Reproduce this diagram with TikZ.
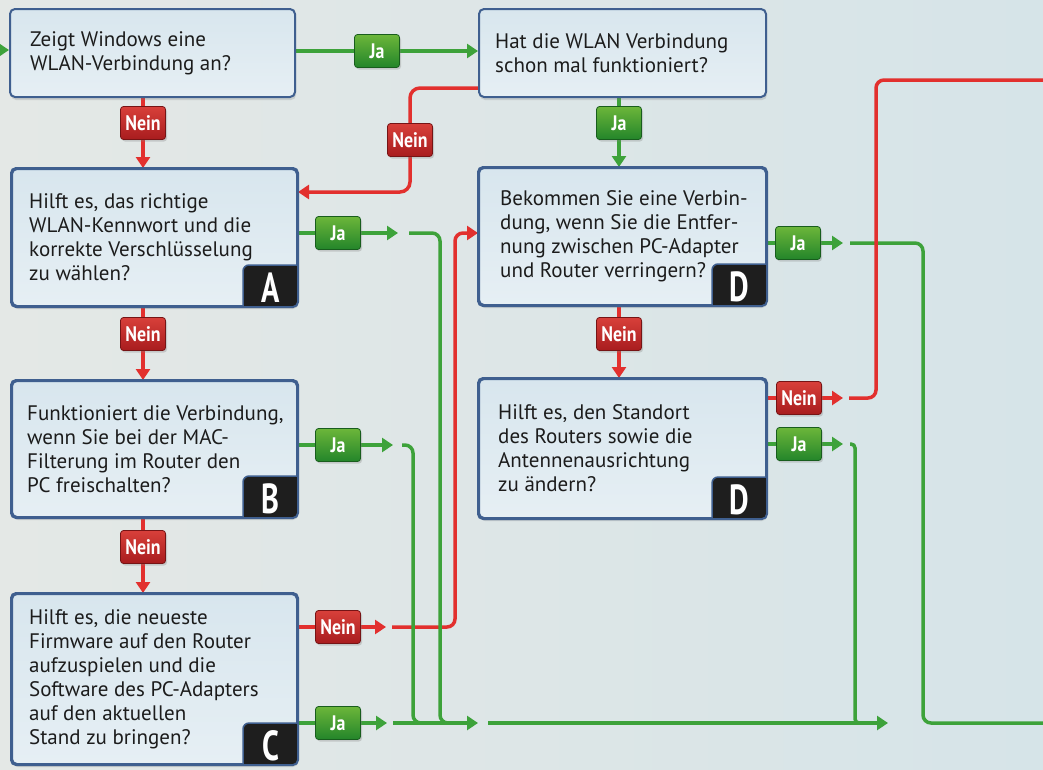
\documentclass[tikz,border=0pt]{standalone}
\usepackage{fontspec}
\setmainfont{PT Sans}
\usepackage{graphicx}
\usetikzlibrary{arrows.meta,shadows,calc}
\definecolor{bgL}{HTML}{E4E8E6}
\definecolor{bgR}{HTML}{D6E4E8}
\definecolor{boxfill}{HTML}{E6EFF4}
\definecolor{boxtop}{HTML}{D8E6EE}
\definecolor{boxblue}{HTML}{3F5F8F}
\definecolor{tabblack}{HTML}{1E1E1E}
\definecolor{lgreen}{HTML}{3DA23A}
\definecolor{lred}{HTML}{E2302E}
\definecolor{ggtop}{HTML}{6CB63A}
\definecolor{ggbot}{HTML}{23852A}
\definecolor{rrtop}{HTML}{D8403A}
\definecolor{rrbot}{HTML}{A81C1E}
\definecolor{txt}{HTML}{1C1C1C}
\pgfdeclarelayer{bgl}
\pgfdeclarelayer{lines}
\pgfsetlayers{bgl,lines,main}
\newcommand\condtxt[2]{\scalebox{#1}[1]{#2}}
\tikzset{
 qbox/.style={draw=boxblue, line width=2pt, rounded corners=5pt, top color=boxtop, bottom color=boxfill, anchor=north west, inner sep=0pt, drop shadow={shadow xshift=1pt, shadow yshift=-3pt, opacity=.25}},
 qtext/.style={anchor=west, align=left, inner sep=0pt, text=txt, font=\fontsize{21}{24}\selectfont},
 lettr/.style={anchor=base, text=white, inner sep=0pt, font=\bfseries\fontsize{42}{42}\selectfont},
 badge/.style={minimum width=45pt, minimum height=33pt, rounded corners=3pt, inner sep=0pt, text=white, font=\bfseries\fontsize{21}{21}\selectfont, line width=.8pt, drop shadow={shadow xshift=1.5pt, shadow yshift=-2pt, opacity=.3}},
 jab/.style={badge, draw=ggbot!70!black, top color=ggtop, bottom color=ggbot},
 neinb/.style={badge, draw=rrbot!70!black, top color=rrtop, bottom color=rrbot},
 gline/.style={draw=lgreen, line width=3.5pt},
 rline/.style={draw=lred, line width=3.5pt},
 arr/.style={-{Triangle[length=11pt,width=14pt]}},
}
% name x y w h inset text
\newcommand\qplain[7]{%
  \node[qbox, minimum width=#4pt, minimum height=#5pt] (#1) at (#2,#3) {};
  \node[qtext] at ([xshift=#6pt]#1.west) {#7};
}
% name x y w h inset text letter
\newcommand\qbox[8]{%
  \node[qbox, minimum width=#4pt, minimum height=#5pt] (#1) at (#2,#3) {};
  \begin{scope}
    \clip[rounded corners=5pt] (#1.north west) rectangle (#1.south east);
    \filldraw[fill=tabblack, draw=boxblue, line width=1.5pt, rounded corners=6pt] ([xshift=-55pt,yshift=42pt]#1.south east) rectangle ([xshift=10pt,yshift=-10pt]#1.south east);
  \end{scope}
  \draw[boxblue, line width=2pt, rounded corners=5pt] (#1.north west) rectangle (#1.south east);
  \node[lettr] at ([xshift=-27.5pt,yshift=5pt]#1.south east) {\condtxt{0.72}{#8}};
  \node[qtext] at ([xshift=#6pt]#1.west) {#7};
}
\begin{document}
\begin{tikzpicture}[x=1pt,y=-1pt]
\useasboundingbox (0,0) rectangle (1043,769);
\begin{pgfonlayer}{bgl}
\shade[left color=bgL, right color=bgR] (0,0) rectangle (1043,769);
\end{pgfonlayer}

% question boxes
\qplain{q1}{9}{8}{285}{88}{21}{Zeigt Windows eine\\WLAN-Verbindung an?}
\qplain{q2}{478}{8}{287}{88}{17}{Hat die WLAN Verbindung\\schon mal funktioniert?}
\qbox{qA}{11}{168}{285}{137}{18}{Hilft es, das richtige\\WLAN-Kennwort und die\\korrekte Verschlüsselung\\zu wählen?}{A}
\qbox{qB}{11}{380}{285}{136}{16}{Funktioniert die Verbindung,\\wenn Sie bei der MAC-\\Filterung im Router den\\PC freischalten?}{B}
\qbox{qC}{11}{593}{285}{170}{18}{Hilft es, die neueste\\Firmware auf den Router\\aufzuspielen und die\\Software des PC-Adapters\\auf den aktuellen\\Stand zu bringen?}{C}
\qbox{qD1}{478}{167}{287}{137}{22}{Bekommen Sie eine Verbin-\\dung, wenn Sie die Entfer-\\nung zwischen PC-Adapter\\und Router verringern?}{D}
\qbox{qD2}{478}{378}{287}{139}{20}{Hilft es, den Standort\\des Routers sowie die\\Antennenausrichtung\\zu ändern?}{D}

% badges
\node[jab] (b1) at (377,51) {\condtxt{0.85}{Ja}};
\node[neinb] (n1) at (143,123) {\condtxt{0.85}{Nein}};
\node[neinb] (n2) at (410,140) {\condtxt{0.85}{Nein}};
\node[jab] (jA) at (338,233) {\condtxt{0.85}{Ja}};
\node[neinb] (nA) at (143,334) {\condtxt{0.85}{Nein}};
\node[jab] (jB) at (338,445) {\condtxt{0.85}{Ja}};
\node[neinb] (nB) at (143,547) {\condtxt{0.85}{Nein}};
\node[neinb] (nC) at (338,627) {\condtxt{0.85}{Nein}};
\node[jab] (jC) at (338,723) {\condtxt{0.85}{Ja}};
\node[jab] (j2) at (619,123) {\condtxt{0.85}{Ja}};
\node[neinb] (nD1) at (619,334) {\condtxt{0.85}{Nein}};
\node[jab] (jD1) at (798,243) {\condtxt{0.85}{Ja}};
\node[neinb] (nD2) at (799,398) {\condtxt{0.85}{Nein}};
\node[jab] (jD2) at (799,444) {\condtxt{0.85}{Ja}};

% free ends
\coordinate (in0) at (-15,50);
\coordinate (aT) at (398,233);  \coordinate (aS) at (409,233);
\coordinate (bT) at (393,445);  \coordinate (bS) at (402,445);
\coordinate (cT) at (386,627);  \coordinate (cS) at (392,627);
\coordinate (dT) at (387,723);
\coordinate (busA) at (393,723); \coordinate (busT) at (478,723);
\coordinate (busB) at (488,723); \coordinate (busU) at (888,723);
\coordinate (eT) at (843,243);  \coordinate (eS) at (850,243);
\coordinate (fT) at (843,398);  \coordinate (fS) at (849,398);
\coordinate (gT) at (843,444);  \coordinate (gS) at (850,444);
\coordinate (rEnd1) at (1050,723);
\coordinate (rEnd2) at (1050,80);

\begin{pgfonlayer}{lines}
% red connectors
\draw[rline,arr] (q1.south -| n1) -- (n1.center) -- (qA.north -| n1);
\draw[rline,arr,rounded corners=10pt] ($(q2.south west)+(0,-10)$) -| (n2.center) |- (qA.east |- 0,192);
\draw[rline,arr] (qA.south -| nA) -- (nA.center) -- (qB.north -| nA);
\draw[rline,arr] (qB.south -| nB) -- (nB.center) -- (qC.north -| nB);
\draw[rline,arr] (qC.east |- nC) -- (nC.center) -- (cT);
\draw[rline,arr,rounded corners=8pt] (cS) -| (455,233) -- (qD1.west |- 0,233);
\draw[rline,arr] (qD1.south -| nD1) -- (nD1.center) -- (qD2.north -| nD1);
\draw[rline,arr] (qD2.east |- nD2) -- (nD2.center) -- (fT);
% green connectors
\draw[gline,arr] (in0) -- (q1.west |- in0);
\draw[gline,arr] (q1.east |- b1) -- (b1.center) -- (q2.west |- b1);
\draw[gline,arr] (qA.east |- jA) -- (jA.center) -- (aT);
\draw[gline,rounded corners=8pt] (aS) -| (440,723) -- (452,723);
\draw[gline,arr] (qB.east |- jB) -- (jB.center) -- (bT);
\draw[gline,rounded corners=8pt] (bS) -| (413,723) -- (425,723);
\draw[gline,arr] (qC.east |- jC) -- (jC.center) -- (dT);
\draw[gline,arr] (busA) -- (busT);
\draw[gline,arr] (busB) -- (busU);
\draw[gline,arr] (q2.south -| j2) -- (j2.center) -- (qD1.north -| j2);
\draw[gline,arr] (qD1.east |- jD1) -- (jD1.center) -- (eT);
\draw[gline,rounded corners=8pt] (eS) -| (923,723) -- (rEnd1);
\draw[gline,arr] (qD2.east |- jD2) -- (jD2.center) -- (gT);
\draw[gline,rounded corners=4pt] (gS) -| (855,723) -- (866,723);
% red long return drawn on top
\draw[rline,rounded corners=8pt] (fS) -| (876,80) -- (rEnd2);
\end{pgfonlayer}
\end{tikzpicture}
\end{document}
